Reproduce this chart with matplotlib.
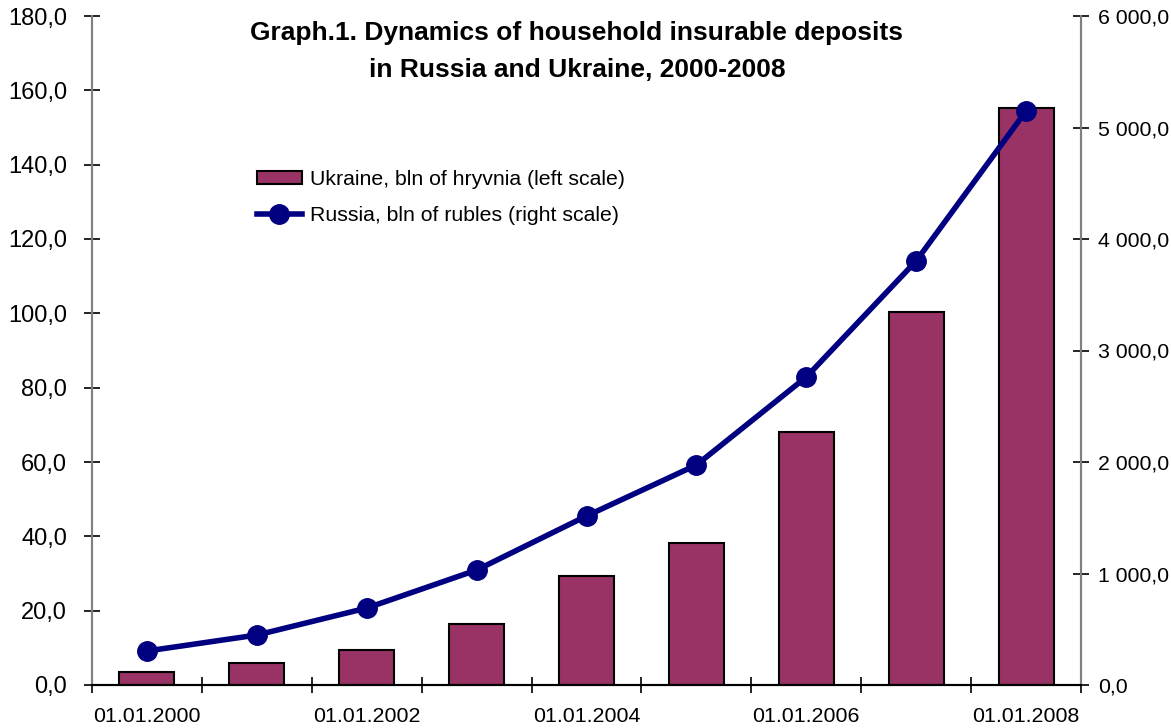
import numpy as np
import matplotlib.pyplot as plt
from matplotlib.ticker import FuncFormatter, FixedLocator

plt.rcParams['font.family'] = ['Liberation Sans', 'DejaVu Sans']

dates = ["01.01.2000", "01.01.2001", "01.01.2002", "01.01.2003", "01.01.2004",
         "01.01.2005", "01.01.2006", "01.01.2007", "01.01.2008"]
ukraine = [3.5, 5.9, 9.4, 16.4, 29.3, 38.2, 68.1, 100.4, 155.2]
russia = [305, 448, 690, 1031, 1516, 1973, 2762, 3803, 5148]

bar_color = "#993366"
line_color = "#000080"


def fmt_left(v, pos):
    return f"{v:.1f}".replace(".", ",")


def fmt_right(v, pos):
    s = f"{v:,.1f}"
    return s.replace(",", " ").replace(".", ",")


def plot_deposits():
    fig = plt.figure(figsize=(11.71, 7.28), dpi=100)
    ax1 = fig.add_axes([92 / 1171, 43 / 728, (1081 - 92) / 1171, (685 - 16) / 728])
    ax2 = ax1.twinx()

    x = np.arange(len(dates))
    ax1.bar(x, ukraine, width=0.5, color=bar_color, edgecolor="black", linewidth=1.5,
            label="Ukraine, bln of hryvnia (left scale)", zorder=2)
    ax2.plot(x, russia, "-o", color=line_color, linewidth=4, markersize=14,
             label="Russia, bln of rubles (right scale)", zorder=3)

    ax1.set_xlim(-0.5, len(dates) - 0.5)
    ax1.set_ylim(0, 180)
    ax2.set_ylim(0, 6000)
    ax1.set_yticks(np.arange(0, 181, 20))
    ax2.set_yticks(np.arange(0, 6001, 1000))
    ax1.yaxis.set_major_formatter(FuncFormatter(fmt_left))
    ax2.yaxis.set_major_formatter(FuncFormatter(fmt_right))

    # ticks at category boundaries, labels on every second category
    ax1.xaxis.set_major_locator(FixedLocator(np.arange(-0.5, len(dates), 1.0)))
    ax1.xaxis.set_major_formatter(FuncFormatter(lambda v, p: ""))
    ax1.xaxis.set_minor_locator(FixedLocator(x[::2]))
    ax1.set_xticklabels([dates[i] for i in x[::2]], minor=True)
    ax1.tick_params(axis="x", which="major", direction="inout", length=12, width=1.2)
    ax1.tick_params(axis="x", which="minor", length=0, labelsize=15.4, pad=16)
    ax1.tick_params(axis="y", direction="inout", length=12, width=1.2, labelsize=17, pad=12)
    ax2.tick_params(axis="y", direction="inout", length=12, width=1.2, labelsize=15.3, pad=6)

    for ax in (ax1, ax2):
        ax.spines["top"].set_visible(False)
        ax.spines["left"].set_color("#808080")
        ax.spines["right"].set_color("#808080")
        ax.spines["left"].set_linewidth(1.5)
        ax.spines["right"].set_linewidth(1.5)
        ax.spines["bottom"].set_linewidth(1.5)
    ax1.set_zorder(ax2.get_zorder() - 1)
    ax1.patch.set_visible(False)

    fig.text(577 / 1171, 1 - 33 / 728, "Graph.1. Dynamics of household insurable deposits",
             ha="center", va="center", fontsize=19, fontweight="bold")
    fig.text(577 / 1171, 1 - 70 / 728, "in Russia and Ukraine, 2000-2008",
             ha="center", va="center", fontsize=19, fontweight="bold")

    h1, l1 = ax1.get_legend_handles_labels()
    h2, l2 = ax2.get_legend_handles_labels()
    fig.legend(h1 + h2, l1 + l2, loc="upper left", bbox_to_anchor=(257 / 1171, 1 - 170 / 728),
               frameon=False, fontsize=15.3, handlelength=2.1, handleheight=0.6,
               handletextpad=0.38, labelspacing=0.82, borderpad=0, borderaxespad=0)

    plt.savefig("out.png", dpi=100)


if __name__ == "__main__":
    plot_deposits()
